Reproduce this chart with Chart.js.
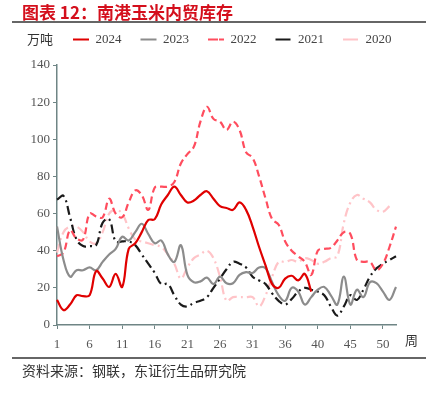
<!DOCTYPE html>
<html lang="zh">
  <head>
    <meta charset="UTF-8" />
    <title>南港玉米内贸库存</title>
    <script src="https://cdn.jsdelivr.net/npm/chart.js@4"></script>
    <style>
      body { margin: 0; background: #fff; }
      #wrap { position: relative; width: 426px; height: 393px; overflow: hidden; }
      #chart { position: absolute; left: 0; top: 0; }
      .txt { position: absolute; white-space: nowrap; font-family: "Noto Sans CJK SC", sans-serif; }
      #title { left: 22px; top: 1px; font-size: 17px; font-weight: 700; color: #d40f1c; line-height: 22px; }
      #unit { left: 27px; top: 31px; font-size: 13px; color: #333; line-height: 16px; }
      #week { left: 405px; top: 332px; font-size: 13px; color: #333; line-height: 16px; }
      #source { left: 22px; top: 362px; font-size: 14px; color: #333; line-height: 17px; }
      .rule { position: absolute; left: 12px; width: 414px; height: 1.5px; background: #666; }
    </style>
  </head>
  <body>
    <div id="wrap">
      <canvas id="chart" width="426" height="393"></canvas>
      <div class="txt" id="title">图表 12：南港玉米内贸库存</div>
      <div class="rule" style="top:21px"></div>
      <div class="txt" id="unit">万吨</div>
      <div class="txt" id="week">周</div>
      <div class="rule" style="top:357px"></div>
      <div class="txt" id="source">资料来源：钢联，东证衍生品研究院</div>
    </div>

    <script>
      // weeks 1..53 on the category axis, only every 5th gets a label
      const weeks = Array.from({ length: 53 }, (_, i) => String(i + 1));
      const tickLabels = ['1', '6', '11', '16', '21', '26', '31', '36', '40', '45', '50'];

      const y2024 = [13.5, 8, 11, 16, 15.5, 16, 29, 25, 20.5, 27.5,
        20.5, 41, 44, 50, 56.5, 57, 65, 70, 74.5, 70,
        66, 67, 70, 72, 68, 64, 63, 62, 66, 62,
        53, 42, 32, 22, 20, 25, 26.5, 24, 27.5, 18];

      const y2023 = [53, 35, 26, 29.5, 29.5, 31, 29.5, 34, 38, 41,
        47.5, 45.5, 50, 54.5, 49, 44, 45.5, 38, 34, 43,
        27, 23, 23.5, 25.5, 22, 26, 22.5, 22.5, 27, 28.5,
        28, 31, 30.5, 23, 16, 13, 20, 18, 11, 15,
        19, 20.5, 16, 11, 26, 11, 19, 15, 23, 22.5,
        18, 13.5, 20.5];

      const y2022 = [37, 39, 51, 46.5, 46, 60, 58.5, 58, 68, 60,
        58, 66, 72.5, 70, 62, 74, 74.5, 74.5, 77, 87,
        92, 96, 109.5, 117.5, 111, 109.5, 105, 109.5, 105, 93,
        90, 80, 68, 57, 54, 45, 40, 37, 34, 27,
        40, 41, 41.5, 45.5, 50, 49, 35, 34, 34, 29.5,
        33, 42, 53];

      const y2021 = [67.5, 69.5, 58, 46, 42.5, 42.5, 43, 55, 57, 45,
        45, 45, 43, 38, 33, 28, 22, 22, 16, 11,
        10, 12, 13, 15, 20, 25, 30, 34, 33, 31,
        26, 24, 22, 17, 13, 11, 14, 18, 20, 19,
        18, 16, 10, 5, 10, 16, 13.5, 19, 26, 30.5,
        33, 35, 37];

      const y2020 = [39, 50, 53, 53, 50, 45, 44, 50, 60, 62,
        60, 52, 46, 45, 44, 43, 42, 38, 33, 25,
        31, 36, 38, 40, 36, 26, 13, 15, 15, 15,
        15, 10, 16, 26, 34, 34, 35, 34, 36, 35,
        33, 34, 36, 37, 55, 66, 70, 68, 66, 62,
        61, 64];

      const axisColor = '#6f8585';
      const tickFont = { family: '"Liberation Serif", serif', size: 13 };

      function series(label, data, color, dash, width) {
        return {
          label: label,
          data: data,
          borderColor: color,
          backgroundColor: color,
          borderWidth: width,
          borderDash: dash,
          pointRadius: 0,
          tension: 0.4,
          fill: false
        };
      }

      // legend: extra room below it, and moved right to sit after "万吨"
      const legendTweak = {
        id: 'legendTweak',
        beforeInit(chart) {
          const fit = chart.legend.fit;
          chart.legend.fit = function () {
            fit.bind(chart.legend)();
            this.height += 9;
          };
        },
        afterLayout(chart) {
          chart.legend.left += 54;
          chart.legend.right += 54;
        }
      };

      const ctx = document.getElementById('chart').getContext('2d');
      new Chart(ctx, {
        type: 'line',
        data: {
          labels: weeks,
          datasets: [
            series('2024', y2024, '#e00000', [], 2.2),
            series('2023', y2023, '#8c8c8c', [], 2.2),
            series('2022', y2022, '#ff4d5e', [7, 4], 2.2),
            series('2021', y2021, '#1a1a1a', [9, 4, 2, 4], 2.2),
            series('2020', y2020, '#ffc4c8', [9, 4, 2, 4], 2.2)
          ]
        },
        options: {
          responsive: false,
          animation: false,
          layout: { padding: { top: 14, right: 30, bottom: 0, left: 0 } },
          plugins: {
            legend: {
              position: 'top',
              align: 'start',
              labels: {
                boxWidth: 16,
                boxHeight: 0,
                padding: 19,
                color: '#444',
                font: { family: '"Liberation Serif", serif', size: 13 }
              }
            },
            tooltip: { enabled: false }
          },
          scales: {
            x: {
              afterFit: s => { s.height = 68; },
              grid: { display: true, drawOnChartArea: false, drawTicks: true, tickLength: 4, color: axisColor },
              border: { color: axisColor, width: 1.5 },
              ticks: {
                autoSkip: false,
                maxRotation: 0,
                padding: 8,
                color: '#555',
                font: tickFont,
                callback: (v, i) => (i % 5 === 0 ? tickLabels[i / 5] : null)
              }
            },
            y: {
              min: 0,
              max: 140,
              afterFit: s => { s.width = 57; },
              grid: { display: true, drawOnChartArea: false, drawTicks: true, tickLength: 4, color: axisColor },
              border: { color: axisColor, width: 1.5 },
              ticks: { stepSize: 20, padding: 3, color: '#555', font: tickFont }
            }
          }
        },
        plugins: [legendTweak]
      });
    </script>
  </body>
</html>
